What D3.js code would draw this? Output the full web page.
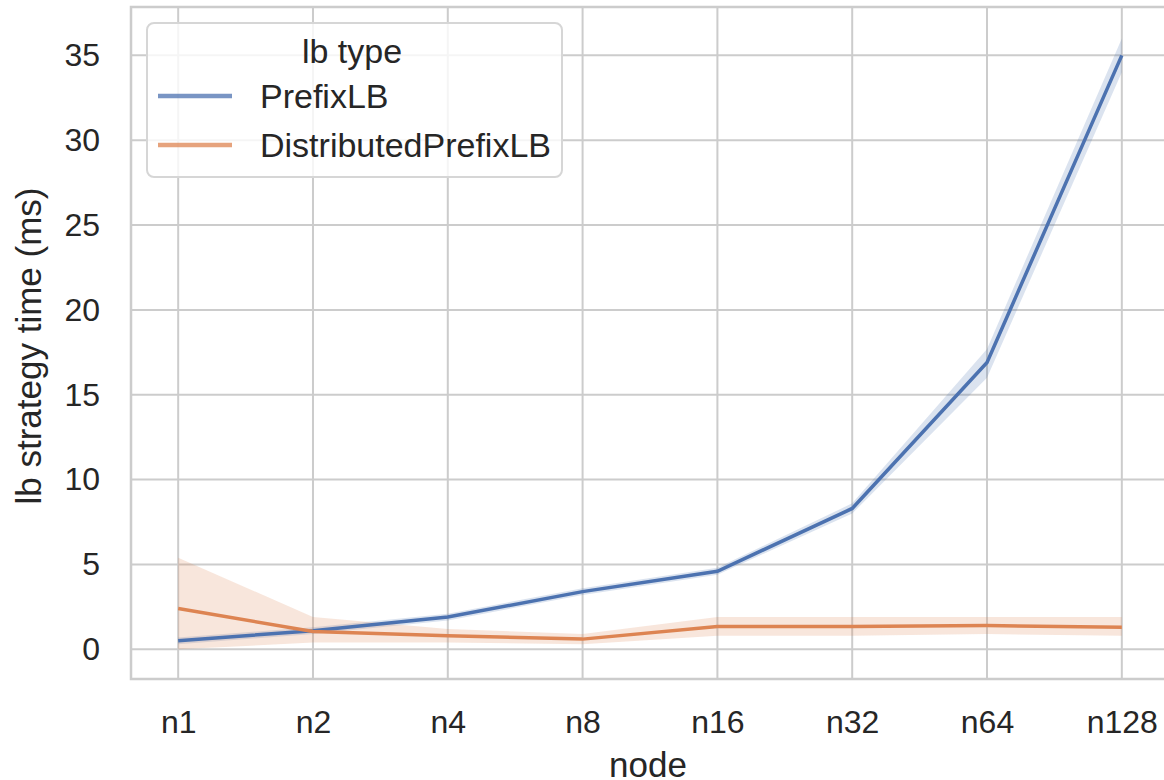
<html>
<head>
<meta charset="utf-8">
<title>lb strategy time</title>
<script src="https://cdn.jsdelivr.net/npm/d3@7"></script>
<style>
  body { margin: 0; background: #fff; }
  text { font-family: "Liberation Sans", Arial, sans-serif; fill: #262626; }
  .grid line { stroke: #cccccc; stroke-width: 2px; }
  .spine { stroke: #cccccc; stroke-width: 2.5px; fill: none; }
</style>
</head>
<body>
<script>
// node counts on the x axis
var nodes = ["n1", "n2", "n4", "n8", "n16", "n32", "n64", "n128"];
var yTicks = [0, 5, 10, 15, 20, 25, 30, 35];

// mean values + confidence band
var prefixMean = [0.5, 1.1, 1.9, 3.4, 4.6, 8.3, 16.9, 35.0];
var prefixLow  = [0.3, 0.9, 1.7, 3.2, 4.4, 8.0, 16.0, 34.0];
var prefixHigh = [0.7, 1.3, 2.1, 3.6, 4.8, 8.6, 17.7, 36.0];

var distMean = [2.4, 1.05, 0.8, 0.6, 1.35, 1.35, 1.4, 1.3];
var distLow  = [0.0, 0.4, 0.4, 0.3, 0.8, 0.8, 0.9, 0.8];
var distHigh = [5.4, 1.9, 1.2, 0.9, 1.9, 1.9, 1.9, 1.9];

var seriesNames = ["PrefixLB", "DistributedPrefixLB"];
var colors = ["#4c72b0", "#dd8452"];

var W = 1164, H = 780;
var pl = 131, pt = 7, pr = 1169, pb = 679;

var svg = d3.select("body").append("svg")
  .attr("width", W)
  .attr("height", H);

var x = d3.scalePoint().domain(nodes).range([pl, pr]).padding(0.35);
var y = d3.scaleLinear().domain([-1.75, 37.85]).range([pb, pt]);

// grid
var grid = svg.append("g").attr("class", "grid");
grid.selectAll(".gx").data(nodes).enter().append("line")
  .attr("x1", function(d){ return x(d); }).attr("x2", function(d){ return x(d); })
  .attr("y1", pt).attr("y2", pb);
grid.selectAll(".gy").data(yTicks).enter().append("line")
  .attr("x1", pl).attr("x2", pr)
  .attr("y1", function(d){ return y(d); }).attr("y2", function(d){ return y(d); });

// spines
svg.append("path").attr("class", "spine")
  .attr("d", "M" + pr + "," + pt + "H" + pl + "V" + pb + "H" + pr);

// axes (labels only, seaborn whitegrid has no tick marks)
var xAxis = svg.append("g").attr("transform", "translate(0," + pb + ")")
  .call(d3.axisBottom(x).tickSize(0).tickPadding(31));
xAxis.select(".domain").remove();
xAxis.selectAll("text").style("font-size", "32px").attr("fill", "#262626");

var yAxis = svg.append("g").attr("transform", "translate(" + pl + ",0)")
  .call(d3.axisLeft(y).tickValues(yTicks).tickSize(0).tickPadding(31));
yAxis.select(".domain").remove();
yAxis.selectAll("text").style("font-size", "32px").attr("fill", "#262626");

svg.append("text").attr("x", 648).attr("y", 777)
  .attr("text-anchor", "middle").style("font-size", "35px").text("node");
svg.append("text")
  .attr("transform", "translate(41,346) rotate(-90)")
  .attr("text-anchor", "middle").style("font-size", "35px").text("lb strategy time (ms)");

// bands and lines
var series = [
  { mean: prefixMean, low: prefixLow, high: prefixHigh },
  { mean: distMean, low: distLow, high: distHigh }
];

var area = d3.area()
  .x(function(d, i){ return x(nodes[i]); })
  .y0(function(d){ return y(d[0]); })
  .y1(function(d){ return y(d[1]); });
var line = d3.line()
  .x(function(d, i){ return x(nodes[i]); })
  .y(function(d){ return y(d); });

series.forEach(function(s, k){
  svg.append("path")
    .datum(s.low.map(function(v, i){ return [v, s.high[i]]; }))
    .attr("d", area)
    .attr("fill", colors[k])
    .attr("fill-opacity", 0.2);
});
series.forEach(function(s, k){
  svg.append("path")
    .datum(s.mean)
    .attr("d", line)
    .attr("fill", "none")
    .attr("stroke", colors[k])
    .attr("stroke-width", 3.5);
});

// legend
var lg = svg.append("g").attr("transform", "translate(147,23)");
lg.append("rect").attr("width", 415).attr("height", 154).attr("rx", 7)
  .attr("fill", "#fff").attr("fill-opacity", 0.8)
  .attr("stroke", "#d6d6d6").attr("stroke-width", 2);
lg.append("text").attr("x", 205).attr("y", 40).attr("text-anchor", "middle")
  .style("font-size", "34px").text("lb type");
seriesNames.forEach(function(n, k){
  var yy = 73 + k * 49;
  lg.append("line").attr("x1", 11).attr("x2", 85).attr("y1", yy).attr("y2", yy)
    .attr("stroke", colors[k]).attr("stroke-opacity", 0.75).attr("stroke-width", 4.5);
  lg.append("text").attr("x", 113).attr("y", yy + 12)
    .style("font-size", "34px").text(n);
});
</script>
</body>
</html>
